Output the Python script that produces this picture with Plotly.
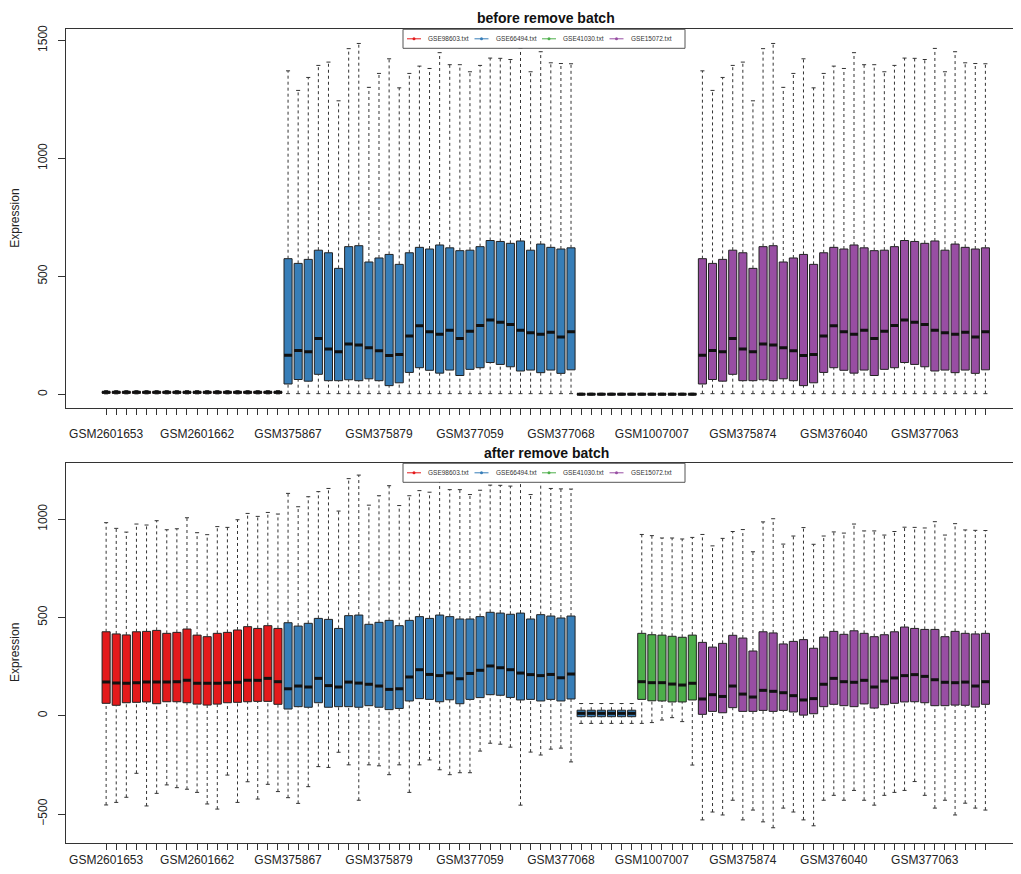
import plotly.graph_objects as go

# ---------------- data ----------------
batch_names = ["GSE98603.txt", "GSE66494.txt", "GSE41030.txt", "GSE15072.txt"]
batch_colors = ["#E41A1C", "#377EB8", "#4DAF4A", "#984EA3"]

# visible x tick labels (every 9th sample is labelled)
tick_labels = ["GSM2601653", "GSM2601662", "GSM375867", "GSM375879", "GSM377059",
               "GSM377068", "GSM1007007", "GSM375874", "GSM376040", "GSM377063"]

# group order along x: red(18), blue(29), small blue(6), green(6), purple(29)
group_sizes = [18, 29, 6, 6, 29]
group_colors = ["#E41A1C", "#377EB8", "#377EB8", "#4DAF4A", "#984EA3"]

# ---- before remove batch ----
red_b_lo = [2, 2, 2, 2, 2, 2, 2, 2, 2, 2, 2, 2, 2, 2, 2, 2, 2, 2]
red_b_q1 = [5, 5, 5, 5, 5, 5, 5, 5, 5, 5, 5, 5, 5, 5, 5, 5, 5, 5]
red_b_med = [9, 9, 9, 9, 9, 9, 9, 9, 9, 9, 9, 9, 9, 9, 9, 9, 9, 9]
red_b_q3 = [12, 12, 12, 12, 12, 12, 12, 12, 12, 12, 12, 12, 12, 12, 12, 12, 12, 12]
red_b_hi = [16, 16, 16, 16, 16, 16, 16, 16, 16, 16, 16, 16, 16, 16, 16, 16, 16, 16]

blue_b_hi = [1371, 1288, 1343, 1394, 1408, 1244, 1465, 1487, 1301, 1360, 1422, 1299, 1360, 1391, 1381,
             1448, 1397, 1397, 1367, 1394, 1425, 1424, 1419, 1466, 1367, 1452, 1405, 1402, 1401]
blue_b_q3 = [575, 555, 572, 611, 600, 534, 626, 630, 561, 578, 593, 551, 600, 623, 616,
             633, 621, 609, 611, 626, 652, 648, 640, 650, 611, 637, 623, 616, 621]
blue_b_med = [166, 186, 181, 237, 192, 181, 213, 209, 198, 185, 165, 169, 247, 291, 265,
              255, 272, 237, 268, 292, 315, 306, 296, 272, 261, 255, 263, 243, 265]
blue_b_q1 = [44, 63, 56, 85, 58, 58, 62, 58, 66, 58, 37, 49, 93, 113, 102,
             90, 103, 80, 106, 113, 135, 127, 117, 99, 103, 92, 103, 89, 104]
blue_b_lo = [3, 3, 3, 3, 3, 3, 3, 3, 3, 3, 3, 3, 3, 3, 3,
             3, 3, 3, 3, 3, 3, 3, 3, 3, 3, 3, 3, 3, 3]

small_b_lo = [-3, -3, -3, -3, -3, -3]
small_b_q1 = [-1, -1, -1, -1, -1, -1]
small_b_med = [1, 1, 1, 1, 1, 1]
small_b_q3 = [3, 3, 3, 3, 3, 3]
small_b_hi = [5, 5, 5, 5, 5, 5]

green_b_lo = [-3, -3, -3, -3, -3, -3]
green_b_q1 = [-1, -1, -1, -1, -1, -1]
green_b_med = [1, 1, 1, 1, 1, 1]
green_b_q3 = [3, 3, 3, 3, 3, 3]
green_b_hi = [5, 5, 5, 5, 5, 5]

purple_b_hi = [1371, 1288, 1343, 1394, 1408, 1244, 1465, 1487, 1301, 1360, 1422, 1299, 1360, 1391, 1381,
               1448, 1397, 1397, 1367, 1394, 1425, 1424, 1419, 1466, 1367, 1452, 1405, 1402, 1401]
purple_b_q3 = [575, 555, 572, 611, 600, 534, 626, 630, 561, 578, 593, 551, 600, 623, 616,
               633, 621, 609, 611, 626, 652, 648, 640, 650, 611, 637, 623, 616, 621]
purple_b_med = [166, 186, 181, 237, 192, 181, 213, 209, 198, 185, 165, 169, 247, 291, 265,
                255, 272, 237, 268, 292, 315, 306, 296, 272, 261, 255, 263, 243, 265]
purple_b_q1 = [44, 63, 56, 85, 58, 58, 62, 58, 66, 58, 37, 49, 93, 113, 102,
               90, 103, 80, 106, 113, 135, 127, 117, 99, 103, 92, 103, 89, 104]
purple_b_lo = [3, 3, 3, 3, 3, 3, 3, 3, 3, 3, 3, 3, 3, 3, 3,
               3, 3, 3, 3, 3, 3, 3, 3, 3, 3, 3, 3, 3, 3]

# ---- after remove batch ----
red_a_hi = [982, 953, 934, 975, 970, 992, 946, 951, 1007, 931, 921, 962, 958, 997, 1029, 1014, 1034, 1026]
red_a_q3 = [427, 416, 411, 427, 429, 434, 419, 424, 441, 410, 402, 419, 424, 436, 453, 444, 458, 444]
red_a_med = [171, 166, 165, 168, 171, 171, 171, 173, 180, 165, 165, 165, 168, 170, 180, 180, 190, 173]
red_a_q1 = [63, 53, 66, 68, 70, 61, 71, 71, 66, 59, 54, 59, 66, 68, 71, 73, 73, 58]
red_a_lo = [-454, -441, -415, -293, -459, -395, -352, -366, -374, -390, -449, -475, -302, -441, -336,
            -424, -349, -386]

blue_a_hi = [1131, 1063, 1114, 1140, 1156, 1041, 1206, 1224, 1071, 1119, 1170, 1069, 1119, 1145, 1137,
             1192, 1150, 1150, 1125, 1147, 1173, 1172, 1168, 1207, 1125, 1195, 1156, 1154, 1153]
blue_a_q3 = [473, 456, 470, 495, 490, 444, 509, 512, 465, 475, 485, 458, 485, 504, 495,
             512, 504, 492, 492, 504, 526, 522, 516, 522, 492, 514, 507, 497, 507]
blue_a_med = [137, 151, 146, 190, 153, 146, 171, 166, 160, 151, 134, 137, 197, 234, 210,
              204, 217, 188, 215, 231, 253, 244, 234, 217, 209, 204, 210, 193, 212]
blue_a_q1 = [34, 46, 43, 66, 43, 46, 46, 43, 51, 43, 31, 37, 75, 87, 83,
             71, 81, 61, 83, 92, 107, 104, 93, 80, 83, 75, 83, 75, 85]
blue_a_lo = [-417, -446, -361, -259, -263, -186, -250, -430, -250, -255, -300, -250, -390, -250, -225,
             -275, -300, -290, -290, -180, -140, -145, -160, -455, -185, -200, -170, -165, -235]

small_a_hi = [62, 62, 62, 62, 62, 62]
small_a_q3 = [28, 28, 28, 28, 28, 28]
small_a_med = [12, 12, 12, 12, 12, 12]
small_a_q1 = [-5, -5, -5, -5, -5, -5]
small_a_lo = [-39, -39, -39, -39, -39, -39]

green_a_hi = [922, 916, 904, 904, 899, 907]
green_a_q3 = [419, 412, 410, 404, 399, 410]
green_a_med = [173, 168, 168, 161, 156, 165]
green_a_q1 = [83, 76, 75, 70, 70, 80]
green_a_lo = [-39, -35, -22, -10, -30, -251]

purple_a_hi = [922, 864, 902, 937, 947, 834, 986, 1002, 873, 914, 957, 872, 914, 935, 929,
               975, 940, 940, 919, 937, 959, 958, 955, 987, 919, 977, 945, 943, 942]
purple_a_q3 = [373, 349, 368, 409, 395, 329, 427, 421, 365, 378, 387, 343, 400, 429, 414,
               432, 419, 402, 412, 427, 451, 444, 439, 439, 402, 429, 419, 416, 419]
purple_a_med = [85, 107, 98, 151, 110, 95, 129, 124, 117, 102, 80, 87, 160, 190, 173,
                170, 180, 146, 176, 192, 204, 209, 200, 183, 170, 168, 171, 151, 173]
purple_a_q1 = [7, 22, 15, 41, 22, 22, 27, 22, 27, 19, 3, 10, 46, 58, 51,
               46, 60, 39, 56, 63, 70, 71, 66, 51, 51, 54, 53, 44, 58]
purple_a_lo = [-530, -490, -505, -430, -530, -480, -540, -570, -470, -490, -530, -560, -430, -405, -430,
               -380, -430, -455, -405, -390, -380, -335, -405, -470, -430, -505, -445, -470, -480]

# ---------------- assemble ----------------
def cat(*lists):
    out = []
    for l in lists:
        out += l
    return out

before = dict(
    lo=cat(red_b_lo, blue_b_lo, small_b_lo, green_b_lo, purple_b_lo),
    q1=cat(red_b_q1, blue_b_q1, small_b_q1, green_b_q1, purple_b_q1),
    med=cat(red_b_med, blue_b_med, small_b_med, green_b_med, purple_b_med),
    q3=cat(red_b_q3, blue_b_q3, small_b_q3, green_b_q3, purple_b_q3),
    hi=cat(red_b_hi, blue_b_hi, small_b_hi, green_b_hi, purple_b_hi),
)
after = dict(
    lo=cat(red_a_lo, blue_a_lo, small_a_lo, green_a_lo, purple_a_lo),
    q1=cat(red_a_q1, blue_a_q1, small_a_q1, green_a_q1, purple_a_q1),
    med=cat(red_a_med, blue_a_med, small_a_med, green_a_med, purple_a_med),
    q3=cat(red_a_q3, blue_a_q3, small_a_q3, green_a_q3, purple_a_q3),
    hi=cat(red_a_hi, blue_a_hi, small_a_hi, green_a_hi, purple_a_hi),
)
box_colors = []
for n, c in zip(group_sizes, group_colors):
    box_colors += [c] * n
n_boxes = len(box_colors)
xs = list(range(1, n_boxes + 1))

FONT = "Liberation Sans, Arial, Helvetica, sans-serif"
fig = go.Figure()

def add_panel(d, xa, ya):
    wx, wy = [], []
    cx, cy = [], []
    mx, my = [], []
    for i, x in enumerate(xs):
        wx += [x, x, None, x, x, None]
        wy += [d["lo"][i], d["q1"][i], None, d["q3"][i], d["hi"][i], None]
        cx += [x - 0.2, x + 0.2, None, x - 0.2, x + 0.2, None]
        cy += [d["hi"][i], d["hi"][i], None, d["lo"][i], d["lo"][i], None]
        mx += [x - 0.4, x + 0.4, None]
        my += [d["med"][i], d["med"][i], None]
    fig.add_trace(go.Scatter(x=wx, y=wy, mode="lines", xaxis=xa, yaxis=ya, showlegend=False,
                             hoverinfo="skip",
                             line=dict(color="#333333", width=1, dash="3px,3px")))
    fig.add_trace(go.Scatter(x=cx, y=cy, mode="lines", xaxis=xa, yaxis=ya, showlegend=False,
                             hoverinfo="skip", line=dict(color="#333333", width=1)))
    fig.add_trace(go.Bar(x=xs, y=[d["q3"][i] - d["q1"][i] for i in range(n_boxes)], base=d["q1"],
                         width=0.8, xaxis=xa, yaxis=ya, showlegend=False,
                         marker=dict(color=box_colors, line=dict(color="#222222", width=1))))
    fig.add_trace(go.Scatter(x=mx, y=my, mode="lines", xaxis=xa, yaxis=ya, showlegend=False,
                             hoverinfo="skip", line=dict(color="#111111", width=3)))

add_panel(before, "x", "y")
add_panel(after, "x2", "y2")

# page has an 8px body margin: work in page pixels and convert to paper fractions
OFF = 8
W, H = 1005, 858

def px(X):
    return (X - OFF) / W

def py(Y):
    return 1 - (Y - OFF) / H

top_dom = [py(408.3), py(29.3)]
bot_dom = [py(842.7), py(463.3)]
left = px(65.7)
x_right = 1 + (OFF + W - 106.0) / 10.108

tick_text = []
for i in range(n_boxes):
    tick_text.append(tick_labels[i // 9] if i % 9 == 0 else "")

xcommon = dict(range=[-3.0, x_right], tickmode="array", tickvals=xs, ticktext=tick_text,
               ticks="outside", ticklen=6, tickcolor="#333", tickwidth=1,
               showline=True, linecolor="#333", linewidth=1, mirror=True,
               showgrid=False, zeroline=False,
               tickfont=dict(family=FONT, size=12, color="#222"), domain=[left, 1])
ycommon = dict(ticks="outside", ticklen=7, tickcolor="#333", showline=True, linecolor="#333",
               linewidth=1, mirror=False, showgrid=False, zeroline=False, tickangle=-90,
               ticklabelstandoff=6, tickfont=dict(family=FONT, size=12, color="#222"))

# ---- hand-drawn R-style horizontal legends (box + line/dot keys + text) ----
shapes = []
annotations = []

def add_legend(top_y):
    box_l, box_r, box_h = 403, 685, 19
    shapes.append(dict(type="rect", xref="paper", yref="paper", x0=px(box_l), x1=px(box_r),
                       y0=py(top_y + box_h), y1=py(top_y), line=dict(color="#555", width=1),
                       fillcolor="white", layer="above"))
    cy = top_y + box_h / 2
    for k, (name, col) in enumerate(zip(batch_names, batch_colors)):
        x0 = 407 + 67.5 * k
        shapes.append(dict(type="line", xref="paper", yref="paper", x0=px(x0), x1=px(x0 + 14),
                           y0=py(cy), y1=py(cy), line=dict(color=col, width=1), layer="above"))
        shapes.append(dict(type="circle", xref="paper", yref="paper", x0=px(x0 + 5.5), x1=px(x0 + 8.5),
                           y0=py(cy + 1.5), y1=py(cy - 1.5), line=dict(color=col, width=0),
                           fillcolor=col, layer="above"))
        annotations.append(dict(text=name, x=px(x0 + 19), y=py(cy), xref="paper", yref="paper",
                                xanchor="left", yanchor="middle", showarrow=False,
                                font=dict(family=FONT, size=6.5, color="#333")))

add_legend(29.3)
add_legend(463.3)

annotations += [
    dict(text="<b>before remove batch</b>", x=px(546), y=py(18), xref="paper", yref="paper",
         xanchor="center", yanchor="middle",
         showarrow=False, font=dict(family=FONT, size=14, color="#111")),
    dict(text="<b>after remove batch</b>", x=px(546), y=py(453), xref="paper", yref="paper",
         xanchor="center", yanchor="middle",
         showarrow=False, font=dict(family=FONT, size=14, color="#111")),
    dict(text="Expression", x=px(15), y=(top_dom[0] + top_dom[1]) / 2, xref="paper", yref="paper",
         xanchor="center", yanchor="middle",
         showarrow=False, textangle=-90, font=dict(family=FONT, size=12, color="#222")),
    dict(text="Expression", x=px(15), y=(bot_dom[0] + bot_dom[1]) / 2, xref="paper", yref="paper",
         xanchor="center", yanchor="middle",
         showarrow=False, textangle=-90, font=dict(family=FONT, size=12, color="#222")),
]

fig.update_layout(
    width=W, height=H, margin=dict(l=0, r=0, t=0, b=0, autoexpand=False),
    plot_bgcolor="white", paper_bgcolor="white", barmode="overlay", showlegend=False,
    xaxis=dict(anchor="y", ticklabelstandoff=8, **xcommon),
    xaxis2=dict(anchor="y2", ticklabelstandoff=0, **xcommon),
    yaxis=dict(anchor="x", domain=top_dom, range=[-59, 1547], tickvals=[0, 500, 1000, 1500], **ycommon),
    yaxis2=dict(anchor="x2", domain=bot_dom, range=[-646, 1284], tickvals=[-500, 0, 500, 1000], **ycommon),
    shapes=shapes,
    annotations=annotations,
)

fig.write_html("out.html")
